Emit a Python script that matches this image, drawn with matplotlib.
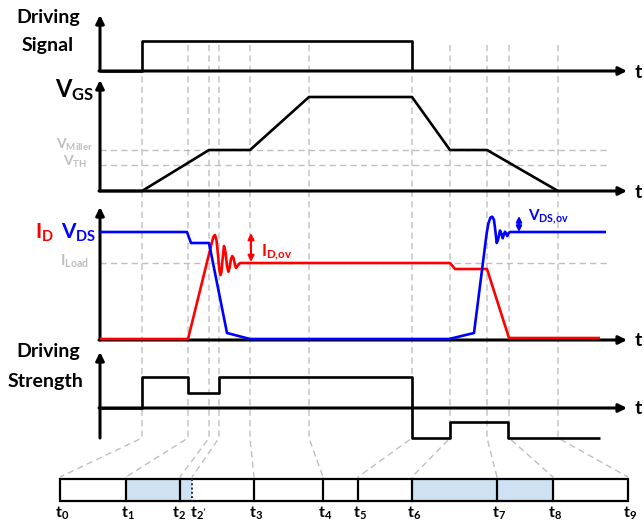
import matplotlib
matplotlib.use("Agg")
import matplotlib.pyplot as plt
from matplotlib.patches import Rectangle

plt.rcParams['font.family'] = ['Lato', 'DejaVu Sans']
plt.rcParams['mathtext.fontset'] = 'custom'
plt.rcParams['mathtext.rm'] = 'Lato'
plt.rcParams['mathtext.bf'] = 'Lato:bold'
plt.rcParams['mathtext.it'] = 'Lato:italic'
plt.rcParams['mathtext.default'] = 'bf'

# ---------------- data (pixel-space schematic) ----------------
# event instants t0..t9 (incl. t2') on the waveform time axis
t_marks = [142, 188, 209, 219, 250, 309, 412, 450, 487, 509, 558]
# matching boundaries of the bottom timeline bar
bar_edges = [60, 126, 180, 192, 254, 323, 358, 412, 497, 553, 628]
bar_labels = ["t_0", "t_1", "t_2", "t_{2'}", "t_3", "t_4", "t_5", "t_6", "t_7", "t_8", "t_9"]
shaded_spans = [(126, 192), (412, 553)]

# Driving signal
sig_x = [100, 142, 142, 412, 412]
sig_y = [71, 71, 41, 41, 71]

# V_GS
v_miller = 150
v_th = 165
vgs_x = [100, 142, 209, 250, 309, 412, 450, 487, 558]
vgs_y = [191, 191, v_miller, v_miller, 97, 97, v_miller, v_miller, 191]

# I_D (red) and V_DS (blue)
i_load = 263
id_x = [100, 188, 212, 213.5, 215, 216.5, 218, 219.5, 220.5, 221.5, 222.5, 224, 225.5,
        227, 228.3, 229.5, 231, 232.3, 233.5, 235, 236, 237.5, 240,
        450, 455, 487, 509, 600]
id_y = [339, 339, 242, 236.5, 235, 240, 255, 271, 275, 272, 260, 246, 252,
        266, 271.7, 268, 259, 256, 258, 265, 268, 266, 263,
        263, 269, 269, 338, 338]
vds_x = [100, 187, 191, 209, 227, 250, 449, 474, 486.7, 488.5, 490.5, 492.3, 494, 495.5,
         496.7, 498, 500, 501.5, 502.7, 504, 505, 506.2, 507.3, 508.5, 510, 606]
vds_y = [232, 232, 243, 243, 333, 339, 339, 333, 233, 223, 217.5, 216.7, 220, 232,
         243, 240, 230.5, 234, 238.3, 234, 231.7, 234, 236, 233, 232, 232]

# Driving strength
ds_x = [100, 142, 142, 188, 188, 219, 219, 412, 412, 450, 450, 508, 508, 600]
ds_y = [408, 408, 377, 377, 393, 393, 377, 377, 438, 438, 422, 422, 438, 438]

# panel axes: (baseline y, arrow-top y, vertical-axis bottom y)
panels = [(71, 15, 71), (191, 80, 191), (340, 207, 340), (408, 352, 438)]

# ---------------- drawing ----------------
fig = plt.figure(figsize=(6.44, 5.25), dpi=100)
ax = fig.add_axes([0, 0, 1, 1])
ax.set_xlim(0, 644)
ax.set_ylim(525, 0)
ax.axis('off')

GRAY = '#bfbfbf'
RED = '#ff0000'
BLUE = '#0000ff'
dash = (0, (4.5, 3))

# vertical guide lines + fan to bar
for tm, be in zip(t_marks, bar_edges):
    ax.plot([tm, tm, be], [45, 438, 477], color=GRAY, lw=1.0, ls=dash, zorder=1)

# horizontal reference lines
for yref in (v_miller, v_th):
    ax.plot([100, 608], [yref, yref], color=GRAY, lw=1.0, ls=dash, zorder=1)
ax.plot([100, 607], [i_load, i_load], color=GRAY, lw=1.0, ls=dash, zorder=1)

# axes with arrows
def arrow(x0, y0, x1, y1, color='k', lw=2.2, style='-|>', ms=12):
    ax.annotate('', xy=(x1, y1), xytext=(x0, y0),
                arrowprops=dict(arrowstyle=style, lw=lw, color=color,
                                shrinkA=0, shrinkB=0, mutation_scale=ms),
                zorder=4)

for base, top, bottom in panels:
    arrow(100, bottom, 100, top)
    arrow(99, base, 627, base)
    ax.text(638, base + 6.5, 't', fontsize=14, fontweight='bold', ha='center',
            va='baseline', zorder=5)

# waveforms
kw = dict(solid_joinstyle='round', solid_capstyle='butt', zorder=5)
ax.plot(sig_x, sig_y, color='k', lw=1.9, **kw)
ax.plot(vgs_x, vgs_y, color='k', lw=1.9, **kw)
ax.plot(id_x, id_y, color=RED, lw=1.9, **kw)
ax.plot(vds_x, vds_y, color=BLUE, lw=1.9, **kw)
ax.plot(ds_x, ds_y, color='k', lw=1.9, **kw)

# overshoot arrows
arrow(251, 262, 251, 233, color=RED, lw=1.5, style='<|-|>', ms=9)
arrow(519, 232, 519, 216, color=BLUE, lw=1.5, style='<|-|>', ms=8)

# labels
ax.text(48, 17, 'Driving', fontsize=14, fontweight='bold', ha='center', va='center')
ax.text(48, 46, 'Signal', fontsize=14, fontweight='bold', ha='center', va='center')
ax.text(48, 351, 'Driving', fontsize=14, fontweight='bold', ha='center', va='center')
ax.text(46, 381, 'Strength', fontsize=14, fontweight='bold', ha='center', va='center')
ax.text(94, 97, r'$V_{GS}$', fontsize=17, ha='right', va='baseline')
ax.text(75, v_miller - 1, r'$V_{Miller}$', fontsize=10, color=GRAY, ha='center', va='baseline')
ax.text(75, v_th + 1, r'$V_{TH}$', fontsize=10, color=GRAY, ha='center', va='baseline')
ax.text(35, 239, r'$I_{D}$', fontsize=15, color=RED, ha='left', va='baseline')
ax.text(61, 239, r'$V_{DS}$', fontsize=15, color=BLUE, ha='left', va='baseline')
ax.text(75, 266, r'$I_{Load}$', fontsize=11, color=GRAY, ha='center', va='baseline')
ax.text(261, 256, r'$I_{D{,}ov}$', fontsize=12, color=RED, ha='left', va='baseline')
ax.text(528, 220, r'$V_{DS{,}ov}$', fontsize=11, color=BLUE, ha='left', va='baseline')

# bottom timeline bar
for a, b in shaded_spans:
    ax.add_patch(Rectangle((a, 479), b - a, 22, facecolor='#cfe2f3', edgecolor='none', zorder=2))
ax.add_patch(Rectangle((bar_edges[0], 479), bar_edges[-1] - bar_edges[0], 22,
                       facecolor='none', edgecolor='k', lw=1.6, zorder=3))
for i, e in enumerate(bar_edges[1:-1], start=1):
    if bar_labels[i] == "t_{2'}":
        ax.plot([e, e], [479, 501], color='#1f2a44', lw=1.4, ls=(0, (1, 1.2)), zorder=3)
    else:
        ax.plot([e, e], [479, 501], color='k', lw=1.6, zorder=3)
label_shift = {2: -3, 3: 4}
for i, (e, lab) in enumerate(zip(bar_edges, bar_labels)):
    ax.text(e + 2 + label_shift.get(i, 0), 518, '$' + lab + '$', fontsize=11.5,
            ha='center', va='baseline')

fig.savefig('out.png', dpi=100)
